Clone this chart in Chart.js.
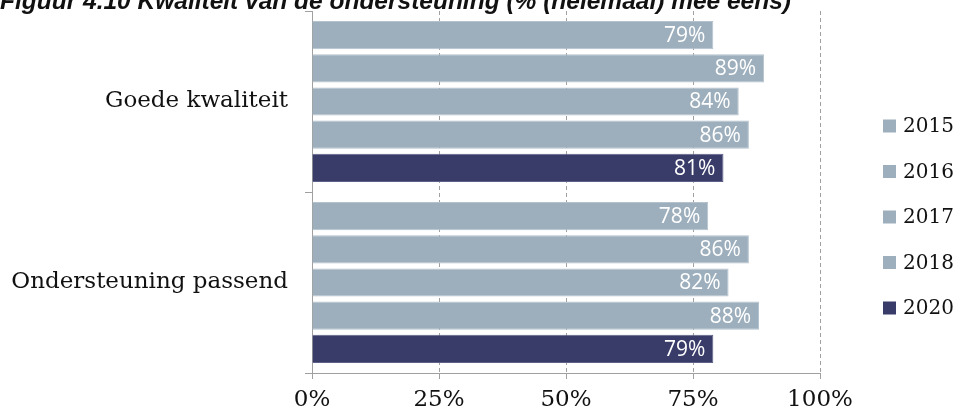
<!DOCTYPE html>
<html>
<head>
<meta charset="utf-8">
<script src="https://cdn.jsdelivr.net/npm/chart.js@4/dist/chart.umd.min.js"></script>
<style>
  body { margin: 0; background: #fff; }
  #wrap { position: relative; width: 962px; height: 416px; overflow: hidden; }
  #title {
    position: absolute; left: 0; top: -11px;
    font: italic bold 24.5px "Liberation Sans", Arial, sans-serif;
    color: #111; white-space: nowrap; line-height: 24.5px;
  }
</style>
</head>
<body>
<div id="wrap">
  <canvas id="chart" width="962" height="416"></canvas>
  <div id="title">Figuur 4.10 Kwaliteit van de ondersteuning (% (helemaal) mee eens)</div>
</div>
<script>
const categories = ["Goede kwaliteit", "Ondersteuning passend"];
const years = ["2015", "2016", "2017", "2018", "2020"];
const values2015 = [79, 78];
const values2016 = [89, 86];
const values2017 = [84, 82];
const values2018 = [86, 88];
const values2020 = [81, 79];
const xTicks = [0, 25, 50, 75, 100];

const light = "#9dafbd";
const dark = "#393c69";
const axisGray = "#a0a0a0";
const serif = "'DejaVu Serif', serif";

const series = [values2015, values2016, values2017, values2018, values2020];

// value labels inside the bar ends
const barLabels = {
  id: "barLabels",
  afterDatasetsDraw(chart) {
    const ctx = chart.ctx;
    ctx.save();
    ctx.font = "21px 'Open Sans', sans-serif";
    ctx.fillStyle = "#ffffff";
    ctx.textAlign = "right";
    ctx.textBaseline = "middle";
    chart.data.datasets.forEach((ds, i) => {
      chart.getDatasetMeta(i).data.forEach((bar, j) => {
        ctx.fillText(ds.data[j] + "%", bar.x - 8, bar.y + 1);
      });
    });
    ctx.restore();
  }
};

// legend on the right
const sideLegend = {
  id: "sideLegend",
  afterDraw(chart) {
    const ctx = chart.ctx;
    const area = chart.chartArea;
    const x = area.right + 63;
    const step = 45.5;
    const n = chart.data.datasets.length;
    const top = 217 - step * (n - 1) / 2;
    ctx.save();
    ctx.font = "20px " + serif;
    ctx.textBaseline = "middle";
    ctx.textAlign = "left";
    chart.data.datasets.forEach((ds, i) => {
      const y = top + i * step;
      ctx.fillStyle = ds.backgroundColor;
      ctx.fillRect(x, y - 6.5, 13, 13);
      ctx.fillStyle = "#111";
      ctx.fillText(ds.label, x + 20, y + 1);
    });
    ctx.restore();
  }
};

new Chart(document.getElementById("chart"), {
  type: "bar",
  data: {
    labels: categories,
    datasets: years.map((year, i) => ({
      label: year,
      data: series[i],
      backgroundColor: i === years.length - 1 ? dark : light,
      borderColor: i === years.length - 1 ? "#5d6088" : "#b3c2cd",
      borderWidth: 1,
      categoryPercentage: 0.917,
      barPercentage: 0.85
    }))
  },
  options: {
    indexAxis: "y",
    responsive: false,
    animation: false,
    layout: { padding: { top: 11, right: 142, bottom: 0, left: 0 } },
    plugins: {
      legend: { display: false },
      tooltip: { enabled: false }
    },
    scales: {
      x: {
        min: 0,
        max: 100,
        afterBuildTicks: (scale) => {
          scale.ticks = xTicks.map((v) => ({ value: v }));
        },
        afterFit: (scale) => { scale.height = 43; },
        ticks: {
          callback: (v) => v + "%",
          color: "#111",
          font: { family: serif, size: 23 },
          padding: 7
        },
        grid: {
          color: axisGray,
          tickLength: 6,
          tickColor: axisGray
        },
        border: { color: axisGray, dash: [4, 3] }
      },
      y: {
        offset: true,
        afterFit: (scale) => {
          scale.width = 312;
          scale.paddingTop = 0;
          scale.paddingBottom = 0;
        },
        ticks: {
          color: "#111",
          font: { family: serif, size: 23 },
          padding: 17
        },
        grid: {
          offset: true,
          drawOnChartArea: false,
          tickLength: 7,
          color: axisGray
        },
        border: { color: axisGray }
      }
    }
  },
  plugins: [barLabels, sideLegend]
});
</script>
</body>
</html>
